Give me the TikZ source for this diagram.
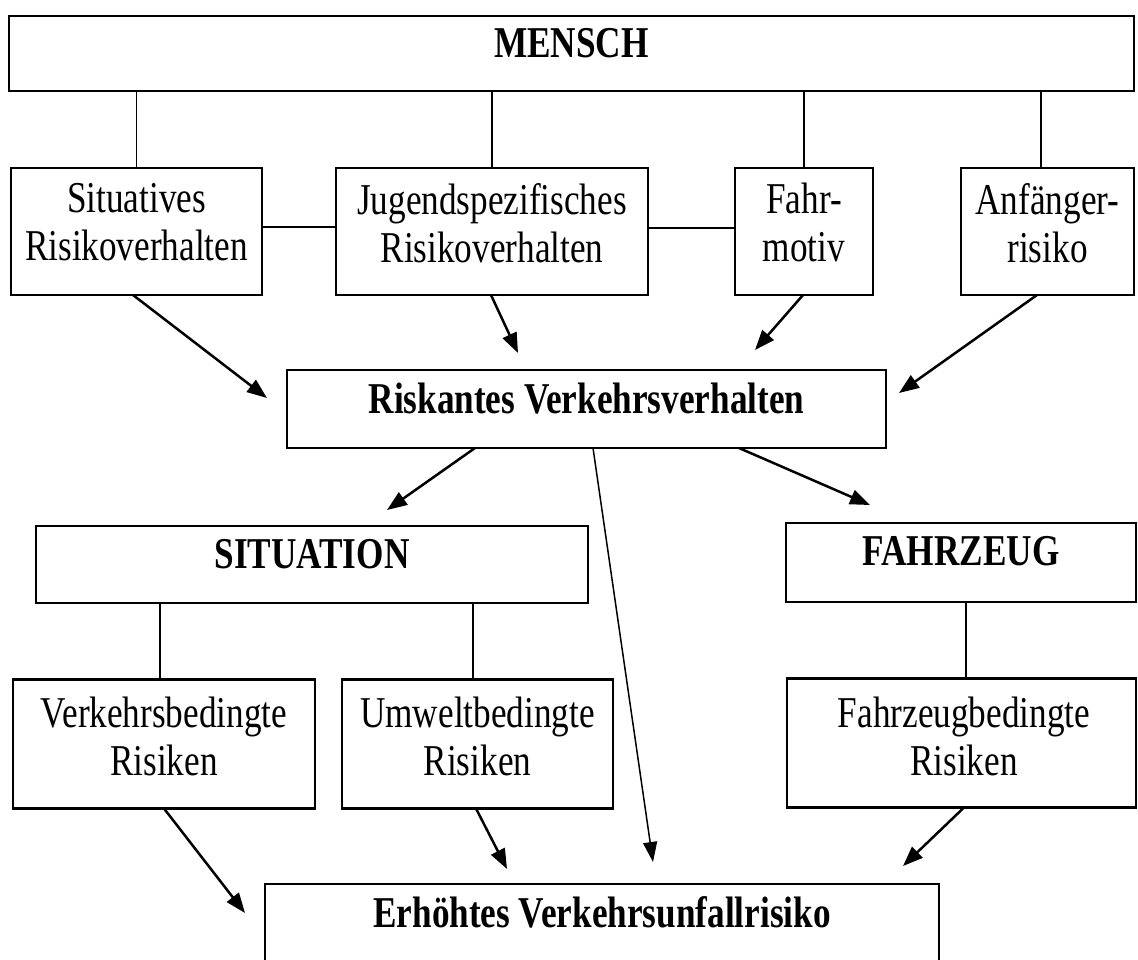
\documentclass[tikz,border=0pt]{standalone}
\usepackage{fontspec}
\setmainfont{Liberation Serif}[FakeStretch=0.8]
\usetikzlibrary{arrows.meta}
\begin{document}
\begin{tikzpicture}[x=1pt,y=-1pt,
  box/.style={draw, line width=2.5pt, inner sep=0pt, outer sep=0pt, rectangle},
  conn/.style={line width=1.5pt},
  arr/.style={line width=2.5pt, -{Triangle[length=20pt,width=15pt]}},
  thinarr/.style={line width=1.5pt, -{Triangle[length=20pt,width=14pt]}},
  lbl/.style={inner sep=0pt, font=\fontsize{44}{48}\selectfont, align=center, anchor=north},
  blbl/.style={inner sep=0pt, font=\fontsize{44}{48}\selectfont\bfseries, anchor=base}]
\useasboundingbox (0,0) rectangle (1138,959);
\clip (0,0) rectangle (1138,959);

% boxes
\node[box, minimum width=1125pt, minimum height=75pt] (m) at (571.5,53.5) {};
\node[box, minimum width=251pt, minimum height=127pt] (sit) at (136.5,231.5) {};
\node[box, minimum width=312pt, minimum height=127pt] (jug) at (492,231.5) {};
\node[box, minimum width=138pt, minimum height=127pt] (fahr) at (804,231.5) {};
\node[box, minimum width=173pt, minimum height=127pt] (anf) at (1047.5,231.5) {};
\node[box, minimum width=599pt, minimum height=78pt] (risk) at (586.5,409) {};
\node[box, minimum width=552pt, minimum height=77pt] (sitn) at (312,564.5) {};
\node[box, minimum width=350pt, minimum height=79pt] (fzg) at (961,562.5) {};
\node[box, minimum width=302pt, minimum height=129pt] (verk) at (164,744) {};
\node[box, minimum width=271pt, minimum height=129pt] (umw) at (477.5,744) {};
\node[box, minimum width=349pt, minimum height=129pt] (fzb) at (961.5,743) {};
\node[box, minimum width=674pt, minimum height=81pt] (erh) at (602,924.5) {};

% texts
\node[blbl] (mt) at (571.5,57) {MENSCH};
\node[lbl] (sitt) at (136.5,183) {Situatives\\Risikoverhalten};
\node[lbl] (jugt) at (492,183) {Jugendspezifisches\\Risikoverhalten};
\node[lbl] (fahrt) at (804,183) {Fahr-\\motiv};
\node[lbl] (anft) at (1047.5,183) {Anfänger-\\risiko};
\node[blbl] (riskt) at (586.5,413) {Riskantes Verkehrsverhalten};
\node[blbl] (sitnt) at (312,568) {SITUATION};
\node[blbl] (fzgt) at (961,565) {FAHRZEUG};
\node[lbl] (verkt) at (164,697) {Verkehrsbedingte\\Risiken};
\node[lbl] (umwt) at (477.5,697) {Umweltbedingte\\Risiken};
\node[lbl] (fzbt) at (964,697) {Fahrzeugbedingte\\Risiken};
\node[blbl] (erht) at (602,927) {Erhöhtes Verkehrsunfallrisiko};

% plain connectors
\draw[conn] (sit.north) -- (sit.north |- m.south);
\draw[conn] (jug.north) -- (jug.north |- m.south);
\draw[conn] (fahr.north) -- (fahr.north |- m.south);
\draw[conn] ([xshift=-6.5pt]anf.north) -- ([xshift=-6.5pt]anf.north |- m.south);
\draw[conn] ([yshift=4.5pt]sit.east) -- ([yshift=4.5pt]jug.west);
\draw[conn] ([yshift=3.5pt]jug.east) -- ([yshift=3.5pt]fahr.west);
\draw[conn] ([xshift=-4pt]verk.north) -- ([xshift=-4pt]verk.north |- sitn.south);
\draw[conn] ([xshift=-4.5pt]umw.north) -- ([xshift=-4.5pt]umw.north |- sitn.south);
\draw[conn] ([xshift=4.5pt]fzb.north) -- ([xshift=4.5pt]fzb.north |- fzg.south);

% arrows
\draw[arr] ([shift={(-3.5,0)}]sit.south) -- ([shift={(-20,-11)}]risk.west);
\draw[arr] ([shift={(-1,0)}]jug.south) -- ([shift={(-68.5,-17)}]risk.north);
\draw[arr] ([shift={(-1,0)}]fahr.south) -- ([shift={(168.5,-20)}]risk.north);
\draw[arr] ([shift={(-10.5,0)}]anf.south) -- ([shift={(13,-16)}]risk.east);
\draw[arr] ([shift={(-111.5,0)}]risk.south) -- ([shift={(75,-16)}]sitn.north);
\draw[arr] ([shift={(152.5,0)}]risk.south) -- ([shift={(-91,-18)}]fzg.north);
\draw[thinarr] ([shift={(6.5,0)}]risk.south) -- ([shift={(51,-22)}]erh.north);
\draw[arr] (verk.south) -- ([shift={(-20,-11.5)}]erh.west);
\draw[arr] ([shift={(-1.5,0)}]umw.south) -- ([shift={(-95,-15)}]erh.north);
\draw[arr] ([shift={(2.5,0)}]fzb.south) -- ([shift={(301,-18)}]erh.north);
\end{tikzpicture}
\end{document}
